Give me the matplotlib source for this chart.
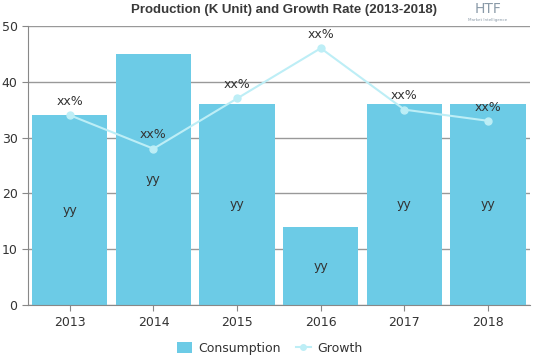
import matplotlib.pyplot as plt
from matplotlib.lines import Line2D
from matplotlib.patches import Patch

years = ['2013', '2014', '2015', '2016', '2017', '2018']
consumption = [34, 45, 36, 14, 36, 36]
growth = [34, 28, 37, 46, 35, 33]
bar_labels = ['yy'] * 6
growth_labels = ['xx%'] * 6

bar_color = '#6ccbe6'
line_color = '#bdeef6'
text_color = '#333333'

fig = plt.figure(figsize=(5.39, 3.59), dpi=100)
ax = fig.add_axes([0.052, 0.150, 0.931, 0.778])

x = range(len(years))
ax.bar(x, consumption, width=0.9, color=bar_color, zorder=2)
ax.plot(x, growth, color=line_color, linewidth=1.5, marker='o', markersize=5, zorder=3)

# labels
for i, v in enumerate(consumption):
    ax.text(i, v / 2, bar_labels[i], ha='center', va='center', fontsize=9, color=text_color, zorder=4)
for i, g in enumerate(growth):
    ax.text(i, g + 1.3, growth_labels[i], ha='center', va='bottom', fontsize=9, color=text_color, zorder=4)

ax.set_xlim(-0.5, 5.5)
ax.set_ylim(0, 50)
ax.set_xticks(list(x))
ax.set_xticklabels(years)
ax.set_yticks([0, 10, 20, 30, 40, 50])
ax.tick_params(axis='both', labelsize=9, colors=text_color, length=4, width=0.8)
ax.tick_params(axis='both', color='#888888')
ax.yaxis.grid(True, color='#999999', linewidth=1, zorder=0)
ax.set_axisbelow(True)
for s in ['top', 'right']:
    ax.spines[s].set_visible(False)
ax.spines['left'].set_color('#888888')
ax.spines['bottom'].set_color('#888888')

fig.text(0.527, 0.972, 'Production (K Unit) and Growth Rate (2013-2018)', ha='center', va='center',
         fontsize=9.5, fontweight='bold', color='#3a3a3a',
         family=['Liberation Sans', 'DejaVu Sans'])

# logo
fig.text(0.905, 0.975, 'HTF', ha='center', va='center', fontsize=10, color='#8a9aa8')
fig.text(0.905, 0.945, 'Market Intelligence', ha='center', va='center', fontsize=3, color='#8a9aa8')

handles = [Patch(facecolor=bar_color, label='Consumption'),
           Line2D([0], [0], color=line_color, marker='o', markersize=4, linewidth=1.5, label='Growth')]
fig.legend(handles=handles, loc='center', bbox_to_anchor=(0.5, 0.03), ncol=2, frameon=False,
           fontsize=9, handlelength=1.2, handleheight=1.0, columnspacing=1.2, handletextpad=0.5,
           labelcolor=text_color)

fig.savefig('out.png', dpi=100)
